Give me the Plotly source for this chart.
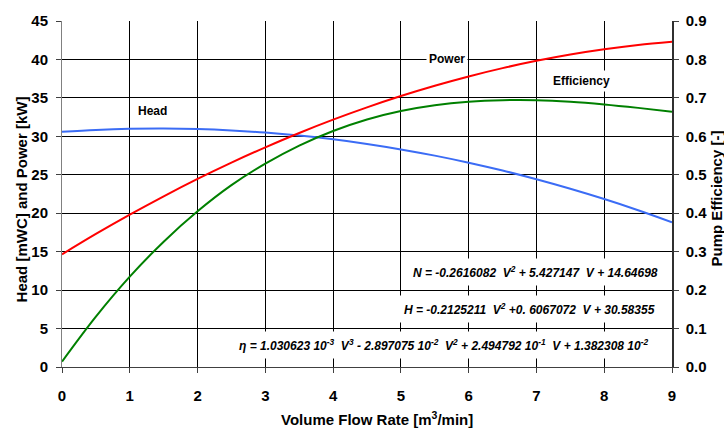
import plotly.graph_objects as go

# Volume flow rate [m3/min]
flow = [0, 0.5, 1, 1.5, 2, 2.5, 3, 3.5, 4, 4.5, 5, 5.5, 6, 6.5, 7, 7.5, 8, 8.5, 9]
# Head [mWC]
head = [30.58, 30.83, 30.98, 31.02, 30.95, 30.77, 30.49, 30.10, 29.61, 29.01,
        28.30, 27.49, 26.57, 25.55, 24.42, 23.18, 21.84, 20.39, 18.83]
# Power [kW]
power = [14.65, 17.30, 19.81, 22.20, 24.46, 26.58, 28.57, 30.44, 32.17, 33.77,
         35.24, 36.58, 37.79, 38.87, 39.82, 40.64, 41.32, 41.88, 42.30]
# Pump efficiency [-]
eff = [0.014, 0.131, 0.235, 0.326, 0.405, 0.473, 0.529, 0.576, 0.614, 0.644,
       0.666, 0.681, 0.690, 0.694, 0.694, 0.690, 0.683, 0.674, 0.664]

x_ticks = [0, 1, 2, 3, 4, 5, 6, 7, 8, 9]
y_ticks = [0, 5, 10, 15, 20, 25, 30, 35, 40, 45]
y2_ticks = [0.0, 0.1, 0.2, 0.3, 0.4, 0.5, 0.6, 0.7, 0.8, 0.9]
y2_labels = ["0.0", "0.1", "0.2", "0.3", "0.4", "0.5", "0.6", "0.7", "0.8", "0.9"]

FONT = "Arial, Liberation Sans, sans-serif"

fig = go.Figure()
fig.add_trace(go.Scatter(x=flow, y=head, mode="lines", name="Head",
                         line=dict(color="#3b6cf5", width=2, shape="spline")))
fig.add_trace(go.Scatter(x=flow, y=power, mode="lines", name="Power",
                         line=dict(color="#ff0000", width=2, shape="spline")))
fig.add_trace(go.Scatter(x=flow, y=eff, mode="lines", name="Efficiency", yaxis="y2",
                         line=dict(color="#008000", width=2, shape="spline")))

axis_font = dict(family=FONT, size=15, color="black", weight="bold")

fig.update_layout(
    width=724, height=430,
    margin=dict(l=62, r=52, t=18, b=63),
    paper_bgcolor="white", plot_bgcolor="white",
    showlegend=False,
    font=dict(family=FONT, color="black"),
    xaxis=dict(range=[0, 9], tickvals=x_ticks, ticks="outside", ticklen=5,
               tickcolor="#404040", showline=True, linecolor="#404040", linewidth=1,
               showgrid=True, gridcolor="black", gridwidth=1, zeroline=False,
               tickfont=axis_font, ticklabelstandoff=10, fixedrange=True),
    yaxis=dict(range=[0, 45], tickvals=y_ticks, ticks="outside", ticklen=5,
               tickcolor="#404040", showline=True, linecolor="#808080", linewidth=1,
               showgrid=True, gridcolor="black", gridwidth=1, zeroline=False,
               tickfont=axis_font, ticklabelstandoff=5),
    yaxis2=dict(range=[0, 0.9], tickvals=y2_ticks, ticktext=y2_labels, overlaying="y",
                side="right", ticks="outside", ticklen=5, tickcolor="#404040",
                showline=True, linecolor="#303030", linewidth=1.5, showgrid=False,
                zeroline=False, tickfont=axis_font, ticklabelstandoff=4),
)

lab_font = dict(family=FONT, size=12, color="black")
eq_font = dict(family=FONT, size=12, color="black")

annotations = [
    dict(x=1.33, y=33.3, text="<b>Head</b>", font=lab_font),
    dict(x=5.68, y=40.0, text="<b>Power</b>", font=lab_font, bgcolor="white", borderpad=2),
    dict(x=7.67, y=37.2, text="<b>Efficiency</b>", font=lab_font, bgcolor="white", borderpad=3),
    dict(x=6.98, y=12.4,
         text="<b><i>N = -0.2616082  V<sup>2</sup> + 5.427147  V + 14.64698</i></b>",
         font=eq_font, bgcolor="white", borderpad=5),
    dict(x=6.9, y=7.5,
         text="<b><i>H = -0.2125211  V<sup>2</sup> +0. 6067072  V + 30.58355</i></b>",
         font=eq_font, bgcolor="white", borderpad=5),
    dict(x=5.64, y=2.85,
         text="<b><i>η = 1.030623 10<sup>-3</sup>  V<sup>3</sup> - 2.897075 10<sup>-2</sup>  V<sup>2</sup>"
              " + 2.494792 10<sup>-1</sup>  V + 1.382308 10<sup>-2</sup></i></b>",
         font=eq_font, bgcolor="white", borderpad=5),
]
for a in annotations:
    a.update(xref="x", yref="y", showarrow=False, xanchor="center", yanchor="middle")

title_font = dict(family=FONT, size=15, color="black")
annotations += [
    dict(xref="paper", yref="paper", x=(21 - 62) / 610, y=(367 - 198) / 349,
         text="<b>Head [mWC] and Power [kW]</b>", textangle=-90, showarrow=False,
         xanchor="center", yanchor="middle", font=title_font),
    dict(xref="paper", yref="paper", x=(716 - 62) / 610, y=(367 - 197) / 349,
         text="<b>Pump Efficiency [-]</b>", textangle=-90, showarrow=False,
         xanchor="center", yanchor="middle", font=title_font),
    dict(xref="paper", yref="paper", x=(377 - 62) / 610, y=(367 - 419) / 349,
         text="<b>Volume Flow Rate [m<sup>3</sup>/min]</b>", showarrow=False,
         xanchor="center", yanchor="middle", font=title_font),
]
fig.update_layout(annotations=annotations)

fig.write_html("out.html")
